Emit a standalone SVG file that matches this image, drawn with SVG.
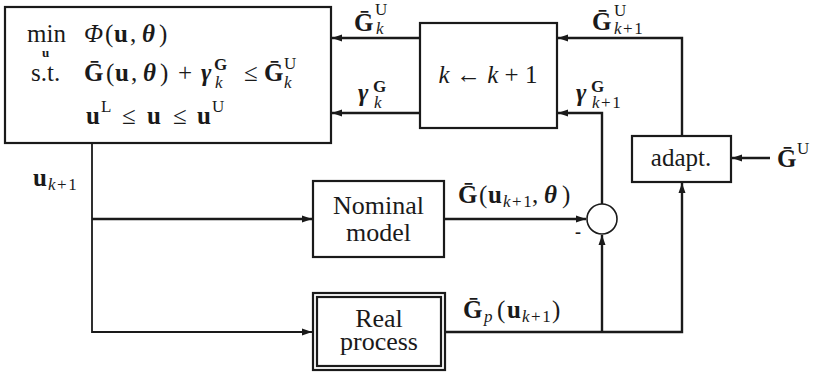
<svg xmlns="http://www.w3.org/2000/svg" width="820" height="372" viewBox="0 0 820 372">
<style>
.box{fill:#ffffff;stroke:#1a1a1a;stroke-width:2.2}
.ln{fill:none;stroke:#1a1a1a;stroke-width:2.4}
.thin{fill:none;stroke:#1a1a1a;stroke-width:1.8}
</style>
<defs>
<marker id="ah" markerUnits="userSpaceOnUse" markerWidth="12" markerHeight="10" refX="10" refY="5" orient="auto">
<path d="M0,1.5 L10,5 L0,8.5 Z" fill="#1a1a1a"/>
</marker>
</defs>
<rect width="820" height="372" fill="#ffffff"/>

<g id="connectors">
<line class="ln" x1="420" y1="38" x2="332" y2="38" marker-end="url(#ah)"/>
<line class="ln" x1="420" y1="113" x2="332" y2="113" marker-end="url(#ah)"/>
<polyline class="ln" points="682,136 682,38 558,38" marker-end="url(#ah)"/>
<polyline class="ln" points="602,204 602,113 558,113" marker-end="url(#ah)"/>
<line class="ln" x1="770" y1="158" x2="732" y2="158" marker-end="url(#ah)"/>
<polyline class="thin" points="92,143 92,332 312,332" marker-end="url(#ah)"/>
<line class="ln" x1="92" y1="219" x2="312" y2="219" marker-end="url(#ah)"/>
<line class="ln" x1="444" y1="219" x2="586" y2="219" marker-end="url(#ah)"/>
<polyline class="ln" points="446,332 682,332 682,183" marker-end="url(#ah)"/>
<line class="ln" x1="602" y1="332" x2="602" y2="235" marker-end="url(#ah)"/>
</g>

<g id="optimizer">
<rect class="box" x="5" y="7" width="326" height="136"/>
<text font-family="Liberation Serif" font-size="25" fill="#1a1a1a" x="27" y="42">min</text>
<text font-family="Liberation Serif" font-size="13" font-weight="bold" fill="#1a1a1a" x="42" y="57">u</text>
<text font-family="Liberation Serif" font-size="25" fill="#1a1a1a" y="42"><tspan x="84" font-style="italic">Φ</tspan><tspan x="105">(</tspan><tspan x="114" font-weight="bold">u</tspan><tspan x="130">,</tspan><tspan x="142" font-weight="bold" font-style="italic">θ</tspan><tspan x="159">)</tspan></text>
<text font-family="Liberation Serif" font-size="25" fill="#1a1a1a" x="31" y="81">s.t.</text>
<text font-family="Liberation Serif" font-size="25" fill="#1a1a1a" y="81"><tspan x="84" font-weight="bold">Ḡ</tspan><tspan x="106">(</tspan><tspan x="115" font-weight="bold">u</tspan><tspan x="131">,</tspan><tspan x="143" font-weight="bold" font-style="italic">θ</tspan><tspan x="160">)</tspan><tspan x="178">+</tspan><tspan x="201" font-weight="bold" font-style="italic">γ</tspan><tspan x="214" y="70" font-size="17" font-weight="bold">G</tspan><tspan x="215" y="88" font-size="17" font-style="italic">k</tspan><tspan x="244" y="81">≤</tspan><tspan x="264" font-weight="bold">Ḡ</tspan><tspan x="284" y="69" font-size="17">U</tspan><tspan x="284" y="88" font-size="17" font-style="italic">k</tspan></text>
<text font-family="Liberation Serif" font-size="25" fill="#1a1a1a" y="124"><tspan x="86" font-weight="bold">u</tspan><tspan x="101" y="112" font-size="17">L</tspan><tspan x="122" y="124">≤</tspan><tspan x="147" font-weight="bold">u</tspan><tspan x="173">≤</tspan><tspan x="197" font-weight="bold">u</tspan><tspan x="212" y="112" font-size="17">U</tspan></text>
</g>

<g id="update">
<rect class="box" x="420" y="23" width="137" height="105"/>
<text font-family="Liberation Serif" font-size="25" fill="#1a1a1a" x="488" y="83" text-anchor="middle"><tspan font-style="italic">k</tspan> ← <tspan font-style="italic">k</tspan> + 1</text>
</g>

<g id="adapt">
<rect class="box" x="632" y="136" width="99" height="46"/>
<text font-family="Liberation Serif" font-size="25" fill="#1a1a1a" x="681" y="166" text-anchor="middle">adapt.</text>
</g>

<g id="nominal">
<rect class="box" x="313" y="181" width="131" height="76"/>
<text font-family="Liberation Serif" font-size="26" fill="#1a1a1a" x="378.5" y="214" text-anchor="middle">Nominal</text>
<text font-family="Liberation Serif" font-size="26" fill="#1a1a1a" x="378.5" y="241" text-anchor="middle">model</text>
</g>

<g id="real">
<rect class="box" x="313" y="293" width="132" height="77"/>
<rect class="box" x="317" y="297" width="124" height="69"/>
<text font-family="Liberation Serif" font-size="26" fill="#1a1a1a" x="379" y="327" text-anchor="middle">Real</text>
<text font-family="Liberation Serif" font-size="26" fill="#1a1a1a" x="379" y="350" text-anchor="middle">process</text>
</g>

<g id="sum">
<circle cx="602" cy="219" r="15" fill="#ffffff" stroke="#1a1a1a" stroke-width="1.6"/>
<text font-family="Liberation Serif" font-size="18" font-weight="bold" fill="#1a1a1a" x="575" y="238">-</text>
</g>

<g id="labels">
<text font-family="Liberation Serif" font-size="25" fill="#1a1a1a" y="31"><tspan x="354" font-weight="bold">Ḡ</tspan><tspan x="375" y="15" font-size="17">U</tspan><tspan x="376" y="34" font-size="17" font-style="italic">k</tspan></text>
<text font-family="Liberation Serif" font-size="25" fill="#1a1a1a" y="101"><tspan x="358" font-weight="bold" font-style="italic">γ</tspan><tspan x="373" y="92" font-size="17" font-weight="bold">G</tspan><tspan x="374" y="108" font-size="17" font-style="italic">k</tspan></text>
<text font-family="Liberation Serif" font-size="25" fill="#1a1a1a" y="30"><tspan x="592" font-weight="bold">Ḡ</tspan><tspan x="614" y="16" font-size="17">U</tspan><tspan x="614" y="34" font-size="17" letter-spacing="1.5"><tspan font-style="italic">k</tspan>+1</tspan></text>
<text font-family="Liberation Serif" font-size="25" fill="#1a1a1a" y="101"><tspan x="576" font-weight="bold" font-style="italic">γ</tspan><tspan x="591" y="92" font-size="17" font-weight="bold">G</tspan><tspan x="592" y="108" font-size="17" letter-spacing="1.5"><tspan font-style="italic">k</tspan>+1</tspan></text>
<text font-family="Liberation Serif" font-size="25" fill="#1a1a1a" y="167"><tspan x="777" font-weight="bold">Ḡ</tspan><tspan x="797" y="154" font-size="17">U</tspan></text>
<text font-family="Liberation Serif" font-size="25" fill="#1a1a1a" y="186"><tspan x="33" font-weight="bold">u</tspan><tspan x="48" y="190" font-size="17" letter-spacing="1.5"><tspan font-style="italic">k</tspan>+1</tspan></text>
<text font-family="Liberation Serif" font-size="25" fill="#1a1a1a" y="203"><tspan x="458" font-weight="bold">Ḡ</tspan><tspan x="479">(</tspan><tspan x="488" font-weight="bold">u</tspan><tspan x="503" y="207" font-size="17" letter-spacing="1.5"><tspan font-style="italic">k</tspan>+1</tspan><tspan x="532" y="203">,</tspan><tspan x="544" font-weight="bold" font-style="italic">θ</tspan><tspan x="562">)</tspan></text>
<text font-family="Liberation Serif" font-size="25" fill="#1a1a1a" y="318"><tspan x="463" font-weight="bold">Ḡ</tspan><tspan x="484" y="322" font-size="17" font-style="italic">p</tspan><tspan x="497" y="318">(</tspan><tspan x="507" font-weight="bold">u</tspan><tspan x="522" y="322" font-size="17" letter-spacing="1.5"><tspan font-style="italic">k</tspan>+1</tspan><tspan x="552" y="318">)</tspan></text>
</g>
</svg>
